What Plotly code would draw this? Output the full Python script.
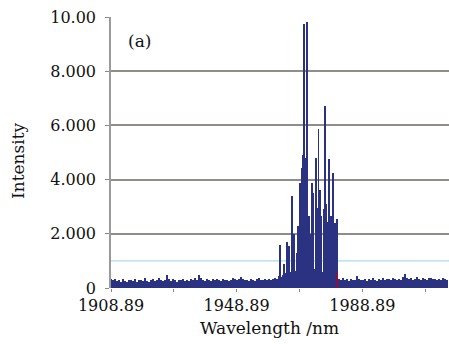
import plotly.graph_objects as go

# ---------------- data ----------------
start_wl = 1908.89
step_wl = 0.637
noise = [
    0.32,0.28,0.35,0.25,0.30,0.22,0.33,0.27,0.24,0.31,0.29,0.26,0.34,0.23,0.28,0.30,0.25,0.36,0.27,0.24,
    0.29,0.33,0.26,0.31,0.38,0.28,0.25,0.30,0.47,0.35,0.27,0.32,0.29,0.24,0.31,0.28,0.34,0.26,0.30,0.27,
    0.33,0.29,0.36,0.31,0.48,0.37,0.30,0.27,0.34,0.29,0.25,0.32,0.28,0.35,0.30,0.26,0.33,0.29,0.31,0.27,
    0.30,0.36,0.32,0.28,0.34,0.41,0.35,0.29,0.31,0.27,0.33,0.30,0.26,0.32,0.36,0.29,0.31,0.34,0.28,0.33,
    0.30,0.35,0.38,0.33,0.45,0.40,0.48,0.55,0.46,0.52,0.58,0.50,0.62,0.55,0.70,0.64,0.78,0.85,0.72,0.90,
    0.80,0.86,0.70,0.76,0.62,0.68,0.58,0.64,0.52,0.60,0.50,0.56,0.46,0.40,0.33,0.30,0.36,0.28,0.32,0.27,
    0.34,0.29,0.31,0.45,0.33,0.28,0.30,0.35,0.27,0.32,0.29,0.38,0.31,0.26,0.33,0.30,0.36,0.28,0.32,0.34,
    0.29,0.37,0.33,0.30,0.35,0.31,0.40,0.52,0.38,0.33,0.36,0.30,0.34,0.42,0.35,0.31,0.37,0.33,0.29,0.36,
    0.38,0.32,0.35,0.30,0.34,0.31,0.37,0.33,0.30,
]
noise_wl = [start_wl + step_wl * i for i in range(len(noise))]

peak_wl = [1962.71, 1963.98, 1964.85, 1965.58, 1966.63, 1967.17, 1968.03, 1968.44, 1968.92,
           1969.62, 1970.13, 1970.35, 1970.67, 1970.99, 1971.40, 1971.95, 1972.27, 1972.81,
           1973.00, 1973.32, 1974.02, 1974.40, 1974.96, 1975.30, 1975.87, 1976.61, 1976.90,
           1977.15, 1977.50, 1977.88, 1978.43, 1978.97, 1979.29, 1979.60, 1980.11, 1980.50,
           1980.88]
peak_val = [1.57, 0.90, 1.68, 1.55, 3.40, 2.00, 1.30, 2.30, 3.88,
            4.43, 4.90, 9.76, 4.80, 3.20, 9.82, 2.64, 2.00, 3.88,
            3.70, 3.50, 4.80, 2.96, 5.87, 3.60, 2.66, 2.92, 1.90,
            6.71, 3.10, 2.42, 4.76, 2.64, 1.80, 4.26, 2.40, 1.60,
            2.55]

marker_wl = [1980.75]
marker_val = [0.55]

threshold = 1.0

x_range = [1908.89, 2016.5]
y_range = [0, 10]
x_tickvals = [1908.89, 1928.89, 1948.89, 1968.89, 1988.89, 2008.89]
x_ticktext = ["1908.89", "", "1948.89", "", "1988.89", ""]
y_tickvals = [0, 2, 4, 6, 8, 10]
y_ticktext = ["0", "2.000", "4.000", "6.000", "8.000", "10.00"]

# ---------------- figure ----------------
navy = "#2c3282"
font_family = "DejaVu Serif"

fig = go.Figure()
fig.add_trace(go.Bar(x=noise_wl, y=noise, width=step_wl, marker=dict(color=navy, line=dict(width=0)),
                     showlegend=False))
fig.add_trace(go.Bar(x=peak_wl, y=peak_val, width=0.3, marker=dict(color=navy, line=dict(width=0)),
                     showlegend=False))
fig.add_trace(go.Bar(x=marker_wl, y=marker_val, width=0.3, marker=dict(color="#8a1040", line=dict(width=0)),
                     showlegend=False))
fig.add_hline(y=threshold, line=dict(color="#a6dce8", width=1.2), layer="below")

fig.update_layout(
    width=449, height=344,
    margin=dict(l=111, r=0, t=17, b=56),
    paper_bgcolor="white", plot_bgcolor="white",
    barmode="overlay", bargap=0,
    font=dict(family=font_family, size=16, color="#111111"),
    annotations=[
        dict(text="Wavelength /nm", xref="paper", yref="paper", x=0.47, y=-0.148,
             showarrow=False, font=dict(size=17), xanchor="center", yanchor="middle"),
        dict(text="Intensity", xref="paper", yref="paper", x=-0.277, y=0.47, textangle=-90,
             showarrow=False, font=dict(size=17), xanchor="center", yanchor="middle"),
        dict(text="(a)", xref="paper", yref="paper", x=0.083, y=0.911,
             showarrow=False, font=dict(size=17), xanchor="center", yanchor="middle"),
    ],
)
fig.update_xaxes(range=x_range, tickmode="array", tickvals=x_tickvals, ticktext=x_ticktext,
                 ticks="outside", ticklen=3, tickcolor="#888888", showgrid=False, zeroline=False,
                 showline=False, tickfont=dict(size=16))
fig.update_yaxes(range=y_range, tickmode="array", tickvals=y_tickvals, ticktext=y_ticktext,
                 ticks="outside", ticklen=4, tickcolor="#888888", showgrid=True, gridcolor="#8f8d86",
                 gridwidth=1.5, zeroline=False, showline=True, linecolor="#9a9a9a", linewidth=1.5,
                 tickfont=dict(size=16), ticklabelstandoff=6)

fig.write_html("out.html", config={"displayModeBar": False},
               post_script="document.body.style.margin='0';document.body.style.overflow='hidden';")
